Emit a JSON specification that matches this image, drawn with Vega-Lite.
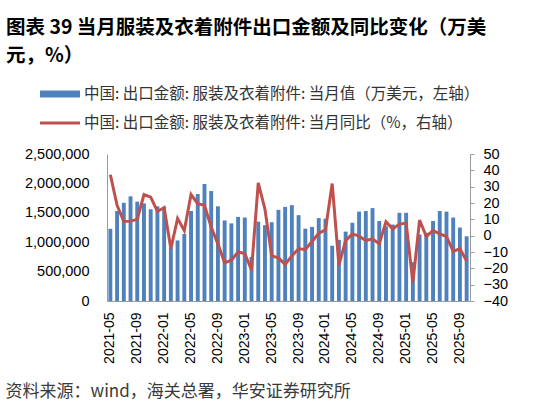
{
  "$schema": "https://vega.github.io/schema/vega-lite/v6.json",
  "width": 363,
  "height": 147,
  "autosize": {"type": "none"},
  "padding": {"left": 107, "top": 154, "right": 70, "bottom": 110},
  "background": "white",
  "config": {"view": {"stroke": null}, "font": "Liberation Sans"},
  "title": {
    "text": ["图表 39 当月服装及衣着附件出口金额及同比变化（万美", "元，%）"],
    "anchor": "start",
    "frame": "group",
    "font": "Noto Sans CJK SC",
    "fontWeight": "bold",
    "fontSize": 19.5,
    "lineHeight": 28,
    "color": "#000000",
    "dx": -101,
    "offset": 8
  },
  "data": {
    "values": [
      {"month": "2021-05", "value": 1228000, "yoy": 37.3},
      {"month": "2021-06", "value": 1530000, "yoy": 18.6},
      {"month": "2021-07", "value": 1670000, "yoy": 8.7},
      {"month": "2021-08", "value": 1780000, "yoy": 8.9},
      {"month": "2021-09", "value": 1690000, "yoy": 10.0},
      {"month": "2021-10", "value": 1660000, "yoy": 25.2},
      {"month": "2021-11", "value": 1560000, "yoy": 23.6},
      {"month": "2021-12", "value": 1610000, "yoy": 14.8},
      {"month": "2022-01", "value": 1600000, "yoy": 17.2},
      {"month": "2022-02", "value": 910000, "yoy": -8.0},
      {"month": "2022-03", "value": 1030000, "yoy": 10.6},
      {"month": "2022-04", "value": 1140000, "yoy": 3.1},
      {"month": "2022-05", "value": 1530000, "yoy": 25.2},
      {"month": "2022-06", "value": 1820000, "yoy": 19.6},
      {"month": "2022-07", "value": 1990000, "yoy": 18.6},
      {"month": "2022-08", "value": 1870000, "yoy": 5.1},
      {"month": "2022-09", "value": 1610000, "yoy": -5.0},
      {"month": "2022-10", "value": 1370000, "yoy": -16.6},
      {"month": "2022-11", "value": 1320000, "yoy": -15.0},
      {"month": "2022-12", "value": 1430000, "yoy": -10.0},
      {"month": "2023-01", "value": 1420000, "yoy": -11.0},
      {"month": "2023-02", "value": 750000, "yoy": -21.0},
      {"month": "2023-03", "value": 1350000, "yoy": 32.3},
      {"month": "2023-04", "value": 1290000, "yoy": 16.2},
      {"month": "2023-05", "value": 1340000, "yoy": -12.4},
      {"month": "2023-06", "value": 1550000, "yoy": -13.6},
      {"month": "2023-07", "value": 1600000, "yoy": -17.6},
      {"month": "2023-08", "value": 1630000, "yoy": -12.4},
      {"month": "2023-09", "value": 1460000, "yoy": -8.0},
      {"month": "2023-10", "value": 1230000, "yoy": -8.4},
      {"month": "2023-11", "value": 1260000, "yoy": -3.6},
      {"month": "2023-12", "value": 1410000, "yoy": 1.5},
      {"month": "2024-01", "value": 1400000, "yoy": 3.5},
      {"month": "2024-02", "value": 940000, "yoy": 31.9},
      {"month": "2024-03", "value": 1040000, "yoy": -18.0},
      {"month": "2024-04", "value": 1180000, "yoy": -3.0},
      {"month": "2024-05", "value": 1330000, "yoy": 1.1},
      {"month": "2024-06", "value": 1520000, "yoy": -0.3},
      {"month": "2024-07", "value": 1530000, "yoy": -3.0},
      {"month": "2024-08", "value": 1580000, "yoy": -1.9},
      {"month": "2024-09", "value": 1360000, "yoy": -5.0},
      {"month": "2024-10", "value": 1270000, "yoy": 8.5},
      {"month": "2024-11", "value": 1300000, "yoy": 4.1},
      {"month": "2024-12", "value": 1500000, "yoy": 7.1},
      {"month": "2025-01", "value": 1500000, "yoy": 7.7},
      {"month": "2025-02", "value": 660000, "yoy": -28.7},
      {"month": "2025-03", "value": 1130000, "yoy": 9.5},
      {"month": "2025-04", "value": 1160000, "yoy": -0.5},
      {"month": "2025-05", "value": 1360000, "yoy": 3.1},
      {"month": "2025-06", "value": 1530000, "yoy": 1.1},
      {"month": "2025-07", "value": 1520000, "yoy": -0.5},
      {"month": "2025-08", "value": 1420000, "yoy": -9.6},
      {"month": "2025-09", "value": 1250000, "yoy": -8.0},
      {"month": "2025-10", "value": 1100000, "yoy": -15.6}
    ]
  },
  "encoding": {
    "x": {
      "field": "month",
      "type": "ordinal",
      "sort": null,
      "scale": {"paddingInner": 0.42, "paddingOuter": 0.21},
      "axis": {
        "values": ["2021-05", "2021-09", "2022-01", "2022-05", "2022-09", "2023-01", "2023-05", "2023-09", "2024-01", "2024-05", "2024-09", "2025-01", "2025-05", "2025-09"],
        "labelAngle": -90,
        "labelFontSize": 14,
        "labelColor": "#000000",
        "ticks": false,
        "labelPadding": 11,
        "domainColor": "#9a9a9a",
        "title": "资料来源：wind，海关总署，华安证券研究所",
        "titleX": -102,
        "titleY": 90,
        "titleAlign": "left",
        "titleAnchor": "start",
        "titleBaseline": "middle",
        "titleFont": "Noto Sans CJK SC",
        "titleFontWeight": "normal",
        "titleFontSize": 17,
        "titleColor": "#3a3a3a"
      }
    }
  },
  "layer": [
    {
      "mark": {"type": "bar"},
      "encoding": {
        "y": {
          "field": "value",
          "type": "quantitative",
          "scale": {"domain": [0, 2500000], "nice": false},
          "axis": {
            "values": [0, 500000, 1000000, 1500000, 2000000, 2500000],
            "labelExpr": "format(datum.value, ',')",
            "ticks": false,
            "grid": false,
            "labelPadding": 18,
            "labelFontSize": 14.5,
            "labelColor": "#000000",
            "domainColor": "#9a9a9a",
            "title": null
          }
        },
        "color": {
          "datum": "中国: 出口金额: 服装及衣着附件: 当月值（万美元，左轴）",
          "scale": {
            "domain": ["中国: 出口金额: 服装及衣着附件: 当月值（万美元，左轴）", "中国: 出口金额: 服装及衣着附件: 当月同比（%，右轴）"],
            "range": ["#4F81BD", "#C0504D"]
          },
          "legend": {
            "orient": "none",
            "legendX": -67,
            "legendY": -80,
            "direction": "vertical",
            "title": null,
            "symbolType": "M-1,-0.17H1V0.17H-1Z",
            "symbolSize": 1600,
            "symbolStrokeWidth": 0,
            "labelFont": "Noto Sans CJK SC",
            "labelFontSize": 15.5,
            "labelColor": "#333333",
            "labelLimit": 500,
            "labelOffset": 4,
            "rowPadding": -7,
            "encode": {
              "symbols": {
                "update": {
                  "shape": {"signal": "datum.index == 0 ? 'M-1,-0.17H1V0.17H-1Z' : 'M-1,-0.075H1V0.075H-1Z'"},
                  "fill": {"signal": "datum.index == 0 ? '#4F81BD' : '#C0504D'"},
                  "opacity": {"value": 1}
                }
              }
            }
          }
        }
      }
    },
    {
      "mark": {"type": "line", "strokeWidth": 3},
      "encoding": {
        "y": {
          "field": "yoy",
          "type": "quantitative",
          "scale": {"domain": [-40, 50], "nice": false},
          "axis": {
            "orient": "right",
            "values": [-40, -30, -20, -10, 0, 10, 20, 30, 40, 50],
            "grid": false,
            "tickSize": 4,
            "tickColor": "#9a9a9a",
            "labelPadding": 9,
            "labelFontSize": 14.5,
            "labelColor": "#000000",
            "domainColor": "#9a9a9a",
            "title": null
          }
        },
        "color": {"datum": "中国: 出口金额: 服装及衣着附件: 当月同比（%，右轴）"}
      }
    }
  ],
  "resolve": {"scale": {"y": "independent"}}
}
